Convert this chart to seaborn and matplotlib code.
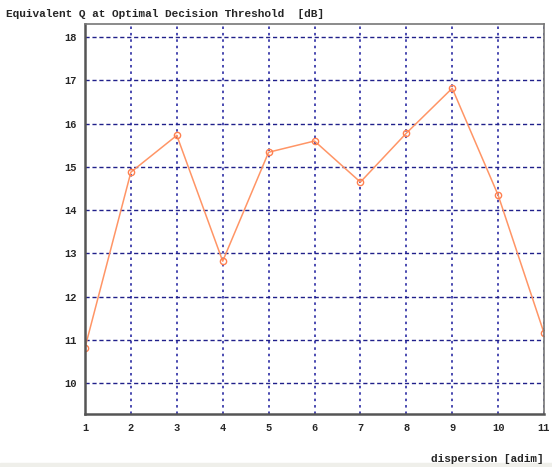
import matplotlib
matplotlib.use('Agg')
import matplotlib.pyplot as plt
import seaborn as sns
import pandas as pd

# valores
dispersion = [1, 2, 3, 4, 5, 6, 7, 8, 9, 10, 11]
q_db = [10.82, 14.88, 15.73, 12.82, 15.34, 15.60, 14.65, 15.78, 16.82, 14.35, 11.16]
y_ticks = [10, 11, 12, 13, 14, 15, 16, 17, 18]

df = pd.DataFrame({"dispersion": dispersion, "Q": q_db})

sns.set_theme(style="white")
plt.rcParams['font.family'] = ['Liberation Mono', 'DejaVu Sans Mono']

fig = plt.figure(figsize=(5.52, 4.67), dpi=100)
ax = fig.add_axes([0.154, 0.113, 0.8315, 0.835])

sns.lineplot(data=df, x="dispersion", y="Q", ax=ax, color="#ff9566",
             linewidth=1.1, marker="o", markersize=4.5,
             markerfacecolor="none", markeredgecolor="#ff8050",
             markeredgewidth=1.0)

ax.set_xlim(1, 11)
ax.set_ylim(9.28, 18.3)
ax.set_xticks(dispersion)
ax.set_yticks(y_ticks)
ax.tick_params(axis='both', labelsize=7.5, length=4, width=1.2, color="#333333",
               direction='out', pad=2)
for lbl in ax.get_xticklabels() + ax.get_yticklabels():
    lbl.set_fontweight('bold')

ax.yaxis.grid(True, color="#20208a", linestyle=(0, (3, 2)), linewidth=1.0)
ax.xaxis.grid(True, color="#4a4ab0", linestyle=(0, (1.3, 2)), linewidth=1.4)
ax.set_axisbelow(True)

for s in ["left", "bottom"]:
    ax.spines[s].set_color("#555555")
    ax.spines[s].set_linewidth(1.8)
for s in ["top", "right"]:
    ax.spines[s].set_color("#777777")
    ax.spines[s].set_linewidth(1.2)

ax.set_xlabel("")
ax.set_ylabel("")
fig.text(0.01, 0.97, "Equivalent Q at Optimal Decision Threshold  [dB]",
         fontsize=8, fontweight='bold', ha='left', va='center')
fig.text(0.985, 0.018, "dispersion [adim]", fontsize=8, fontweight='bold',
         ha='right', va='center')

# franja clara del borde inferior
fig.patches.append(plt.Rectangle((0, 0), 1, 0.008, transform=fig.transFigure,
                                 color="#efefea", zorder=-1))

plt.savefig("out.png", dpi=100)
plt.close()
